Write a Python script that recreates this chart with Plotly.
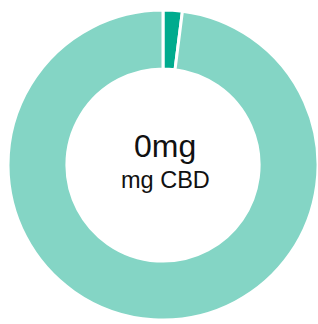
import plotly.graph_objects as go

labels = ["CBD", "Rest"]
values = [2, 98]
colors = ["#00ab8e", "#84d5c5"]
center_value = "0mg"
center_label = "mg CBD"

W, H = 318, 324

fig = go.Figure(go.Pie(
    labels=labels, values=values, hole=0.62, sort=False,
    direction="clockwise", rotation=0,
    marker=dict(colors=colors, line=dict(color="white", width=3)),
    textinfo="none", hoverinfo="label+value", showlegend=False,
    domain=dict(x=[8 / W, 1], y=[2 / H, 1 - 8 / H]),
))
fig.add_annotation(x=165 / W, y=1 - 146 / H, xref="paper", yref="paper", text=center_value,
                   showarrow=False, font=dict(family="Liberation Sans, Arial", size=32, color="#111"))
fig.add_annotation(x=165 / W, y=1 - 180 / H, xref="paper", yref="paper", text=center_label,
                   showarrow=False, font=dict(family="Liberation Sans, Arial", size=23.5, color="#111"))
fig.update_layout(width=W, height=H, margin=dict(l=0, r=0, t=0, b=0),
                  paper_bgcolor="white", plot_bgcolor="white")
css = "html,body{margin:0;padding:0;overflow:hidden;}"
post = ("var s=document.createElement('style');s.textContent=" + repr(css) +
        ";document.head.appendChild(s);")
fig.write_html("out.html", post_script=post, config={"displayModeBar": False})
